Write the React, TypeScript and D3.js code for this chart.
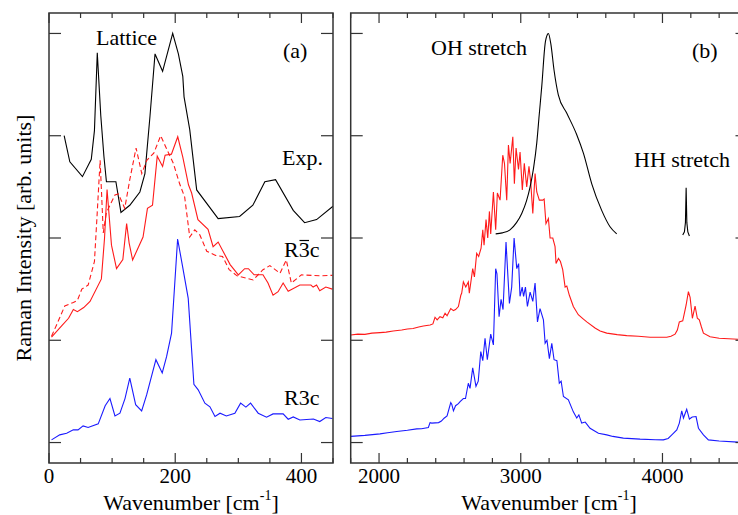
import React from 'react';
import * as d3 from 'd3';

// ---------- data ----------
type P = [number, number];

// Panel (a): lattice region
const expA: P[] = [[24,3.0],[33,2.745],[53,2.6],[67,2.77],[72,3.05],[76.5,3.81],[82,3.2],[87,2.8],[91,2.55],[106,2.55],[114,2.25],[128,2.32],[144,2.45],[152,2.63],[160,3.19],[168,3.80],[180,3.63],[196,4.0],[205,3.8],[212,3.58],[214,3.38],[223,3.06],[234,2.47],[268,2.19],[302,2.21],[323,2.32],[342,2.55],[359,2.57],[387,2.27],[405,2.15],[424,2.18],[450,2.31]];

const r3barcA: P[] = [[4,1.03],[20,1.14],[31,1.215],[38.6,1.30],[45,1.28],[55,1.32],[65,1.38],[83,1.60],[88,2.0],[92,2.475],[99,1.93],[107,1.70],[117,1.79],[123,2.14],[127,1.95],[132.5,1.785],[149,2.01],[156,2.29],[164,2.32],[171.5,2.80],[180,2.70],[184,2.81],[194,2.82],[204,2.99],[212,2.79],[221,2.52],[226,2.44],[236,2.18],[252,2.085],[260,1.915],[268,1.96],[287,1.74],[300,1.64],[310,1.70],[316,1.70],[325,1.64],[339,1.64],[347,1.56],[355,1.44],[363,1.475],[371,1.56],[379,1.48],[397.5,1.54],[415,1.54],[418.5,1.52],[424,1.54],[429,1.485],[438.6,1.52],[449,1.50]];

const r3barcDashA: P[] = [[4,1.04],[12,1.15],[25,1.335],[38.6,1.37],[45,1.39],[52,1.50],[62,1.54],[72,1.77],[76,2.2],[81,2.76],[86,2.05],[91,2.25],[104.5,2.42],[110,2.43],[120,2.29],[128,2.57],[138,2.88],[147,2.63],[155,2.76],[166,2.83],[177,3.0],[185,2.89],[197,2.73],[207,2.53],[215,2.40],[223,2.01],[231,2.08],[239,2.03],[250,1.87],[264,1.83],[275,1.82],[285.5,1.69],[298,1.63],[323.5,1.59],[339,1.69],[350,1.73],[366,1.655],[376,1.785],[384,1.56],[400,1.64],[429,1.63],[449,1.635]];

const r3cA: P[] = [[4,0.026],[17,0.075],[28,0.09],[38.5,0.124],[46,0.124],[54,0.163],[62,0.147],[78,0.183],[89,0.36],[96.6,0.43],[104.5,0.26],[112.4,0.287],[120.4,0.43],[128,0.63],[137.3,0.37],[146.8,0.31],[154.7,0.466],[169.4,0.81],[179.4,0.68],[186.3,0.84],[194.2,1.07],[203.8,1.99],[211.7,1.72],[220.6,1.41],[229.6,0.57],[236.4,0.515],[247,0.385],[255,0.35],[263,0.254],[271,0.287],[281,0.26],[294.5,0.287],[303.6,0.385],[312,0.346],[319.4,0.385],[331.5,0.287],[344.7,0.248],[355,0.28],[371,0.28],[379,0.228],[387,0.25],[397.5,0.22],[419,0.23],[429,0.205],[438.6,0.245],[449,0.235]];

// Panel (b): stretch region
const ohExpB: P[] = [[2823,2.04],[2870,2.05],[2924,2.08],[2970,2.15],[3007,2.24],[3040,2.36],[3066,2.50],[3090,2.68],[3113,2.93],[3130,3.2],[3148,3.48],[3172,3.90],[3188,3.99],[3195,4.0],[3212,3.90],[3235,3.64],[3265,3.40],[3325,3.22],[3395,3.01],[3442,2.83],[3501,2.53],[3571,2.27],[3630,2.11],[3677,2.04]];

const hhExpB: P[] = [[4143,2.03],[4155,2.06],[4162,2.15],[4167,2.49],[4172,2.15],[4179,2.06],[4190,2.02]];

const r3barcB: P[] = [[1800,1.052],[1850,1.06],[1900,1.058],[1950,1.07],[2007,1.075],[2050,1.08],[2100,1.09],[2160,1.10],[2200,1.11],[2240,1.115],[2280,1.13],[2313,1.14],[2360,1.15],[2380,1.16],[2395,1.225],[2410,1.2],[2430,1.23],[2450,1.22],[2466,1.264],[2480,1.24],[2506,1.31],[2525,1.29],[2540,1.30],[2560,1.33],[2577,1.44],[2583,1.46],[2595,1.57],[2612,1.52],[2630,1.57],[2637,1.46],[2661,1.70],[2673,1.62],[2689,1.85],[2703,1.82],[2720,1.90],[2732,2.08],[2741,1.93],[2755,2.18],[2767,2.00],[2779,2.26],[2788,2.04],[2807,2.45],[2823,2.08],[2835,2.44],[2854,2.37],[2873,2.81],[2885,2.73],[2901,2.37],[2913,2.91],[2925,2.73],[2944,2.99],[2955,2.53],[2967,2.88],[2984,2.67],[2995,2.84],[3011,2.47],[3025,2.73],[3042,2.50],[3058,2.70],[3070,2.55],[3085,2.24],[3101,2.63],[3113,2.45],[3131,2.37],[3155,2.37],[3165,2.38],[3178,2.14],[3195,2.19],[3207,2.00],[3226,2.0],[3242,1.915],[3249,1.75],[3266,1.80],[3280,1.77],[3296,1.69],[3313,1.52],[3325,1.53],[3343,1.44],[3371,1.33],[3406,1.25],[3440,1.21],[3466,1.18],[3524,1.12],[3560,1.09],[3607,1.07],[3680,1.055],[3748,1.045],[3830,1.04],[3913,1.03],[3970,1.03],[4030,1.03],[4060,1.04],[4089,1.06],[4105,1.1],[4119,1.18],[4143,1.19],[4160,1.3],[4167,1.345],[4183,1.475],[4195,1.42],[4211,1.215],[4230,1.335],[4246,1.215],[4260,1.2],[4275,1.13],[4289,1.07],[4336,1.035],[4400,1.02],[4533,1.01],[4600,1.01]];

const r3cB: P[] = [[1800,0.06],[1900,0.07],[2007,0.085],[2060,0.095],[2125,0.108],[2200,0.12],[2266,0.134],[2300,0.135],[2348,0.147],[2360,0.195],[2372,0.19],[2420,0.195],[2440,0.21],[2459,0.238],[2480,0.26],[2506,0.39],[2513,0.375],[2525,0.31],[2540,0.36],[2560,0.38],[2572,0.40],[2595,0.43],[2610,0.43],[2630,0.58],[2642,0.53],[2661,0.73],[2684,0.55],[2700,0.6],[2718,0.89],[2732,0.80],[2748,1.02],[2764,0.81],[2788,1.06],[2807,0.955],[2823,1.70],[2832,1.65],[2847,1.23],[2861,1.40],[2875,1.30],[2896,1.96],[2920,1.36],[2936,1.52],[2953,2.0],[2972,1.70],[2985,1.75],[2995,1.43],[3010,1.52],[3020,1.43],[3033,1.52],[3047,1.33],[3066,1.47],[3085,1.38],[3101,1.56],[3118,1.18],[3136,1.31],[3160,1.2],[3172,0.97],[3185,1.0],[3202,0.82],[3219,0.97],[3235,0.81],[3255,0.8],[3272,0.58],[3285,0.6],[3301,0.45],[3336,0.417],[3371,0.30],[3395,0.24],[3410,0.27],[3430,0.19],[3455,0.2],[3489,0.14],[3548,0.09],[3607,0.075],[3650,0.06],[3724,0.043],[3842,0.033],[3950,0.028],[4006,0.026],[4040,0.04],[4066,0.075],[4101,0.124],[4119,0.19],[4136,0.31],[4148,0.24],[4171,0.326],[4190,0.23],[4210,0.25],[4237,0.254],[4254,0.14],[4289,0.075],[4324,0.026],[4400,0.015],[4533,0.004],[4600,0.0]];

const xTicksA = [0, 200, 400];
const xTicksB = [2000, 3000, 4000];
const yTicks = [0, 1, 2, 3, 4];

// ---------- layout ----------
const W = 738, H = 515;
const TOP = 13, BOTTOM = 463;
const FONT = '"Liberation Serif", "Times New Roman", serif';
const FRAME = '#333';

const ys = d3.scaleLinear().domain([-0.2, 4.2]).range([BOTTOM, TOP]);
const xa = d3.scaleLinear().domain([0, 450]).range([49, 333]);
const xb = d3.scaleLinear().domain([1800, 4600]).range([350.7, 747.5]);

function Panel({ x, majors, minorStep, id, children }: any) {
  const [d0, d1] = x.domain();
  const [r0, r1] = x.range();
  const minors = d3.range(Math.ceil(d0 / minorStep) * minorStep, d1 + 0.001, minorStep).filter((v: number) => !majors.includes(v));
  return (
    <g>
      <defs>
        <clipPath id={id}><rect x={r0} y={TOP} width={r1 - r0} height={BOTTOM - TOP} /></clipPath>
      </defs>
      <g clipPath={`url(#${id})`}>{children}</g>
      {majors.map((v: number) => (
        <g key={'M' + v}>
          <line x1={x(v)} x2={x(v)} y1={BOTTOM} y2={BOTTOM - 10} stroke={FRAME} strokeWidth={1.2} />
          <line x1={x(v)} x2={x(v)} y1={TOP} y2={TOP + 10} stroke={FRAME} strokeWidth={1.2} />
          <text x={x(v)} y={483} textAnchor="middle" fontSize={21} fontFamily={FONT} fill="#000">{v}</text>
        </g>
      ))}
      {minors.map((v: number) => (
        <g key={'m' + v}>
          <line x1={x(v)} x2={x(v)} y1={BOTTOM} y2={BOTTOM - 5} stroke={FRAME} strokeWidth={1.2} />
          <line x1={x(v)} x2={x(v)} y1={TOP} y2={TOP + 5} stroke={FRAME} strokeWidth={1.2} />
        </g>
      ))}
      {yTicks.map((v) => (
        <g key={'y' + v}>
          <line x1={r0} x2={r0 + 12} y1={ys(v)} y2={ys(v)} stroke={FRAME} strokeWidth={1.2} />
          <line x1={r1} x2={r1 - 12} y1={ys(v)} y2={ys(v)} stroke={FRAME} strokeWidth={1.2} />
        </g>
      ))}
      <rect x={r0} y={TOP} width={r1 - r0} height={BOTTOM - TOP} fill="none" stroke={FRAME} strokeWidth={1.5} />
      <text x={(r0 + r1) / 2} y={510} textAnchor="middle" fontSize={22} fontFamily={FONT} fill="#000">
        Wavenumber [cm<tspan fontSize={14} dy={-10}>-1</tspan><tspan dy={10}>]</tspan>
      </text>
    </g>
  );
}

export default function App() {
  const la = d3.line<P>().x((d) => xa(d[0])).y((d) => ys(d[1]));
  const lb = d3.line<P>().x((d) => xb(d[0])).y((d) => ys(d[1]));
  const lbs = d3.line<P>().x((d) => xb(d[0])).y((d) => ys(d[1])).curve(d3.curveMonotoneX);
  const lw = 1.1;
  return (
    <svg width={W} height={H} style={{ position: 'absolute', left: 0, top: 0, display: 'block', background: '#fff' }}>
      <Panel x={xa} majors={xTicksA} minorStep={50} id="clipA">
        <path d={la(expA)!} fill="none" stroke="#000" strokeWidth={lw} />
        <path d={la(r3barcDashA)!} fill="none" stroke="#ff1a1a" strokeWidth={lw} strokeDasharray="5,3" />
        <path d={la(r3barcA)!} fill="none" stroke="#ff1a1a" strokeWidth={lw} />
        <path d={la(r3cA)!} fill="none" stroke="#1a1aff" strokeWidth={lw} />
      </Panel>
      <Panel x={xb} majors={xTicksB} minorStep={200} id="clipB">
        <path d={lb(r3barcB)!} fill="none" stroke="#ff1a1a" strokeWidth={lw} />
        <path d={lb(r3cB)!} fill="none" stroke="#1a1aff" strokeWidth={lw} />
        <path d={lbs(ohExpB)!} fill="none" stroke="#000" strokeWidth={lw} />
        <path d={lb(hhExpB)!} fill="none" stroke="#000" strokeWidth={lw} />
      </Panel>
      <g fontFamily={FONT} fontSize={22} fill="#000">
        <text x={96} y={45}>Lattice</text>
        <text x={283} y={58}>(a)</text>
        <text x={282} y={165}>Exp.</text>
        <text x={284} y={257}>R3c</text>
        <line x1={299.5} x2={309} y1={240.5} y2={240.5} stroke="#000" strokeWidth={1.2} />
        <text x={284} y={405}>R3c</text>
        <text x={431} y={55}>OH stretch</text>
        <text x={692} y={58}>(b)</text>
        <text x={634} y={167}>HH stretch</text>
        <text transform="translate(31,238) rotate(-90)" textAnchor="middle">Raman Intensity [arb. units]</text>
      </g>
    </svg>
  );
}
